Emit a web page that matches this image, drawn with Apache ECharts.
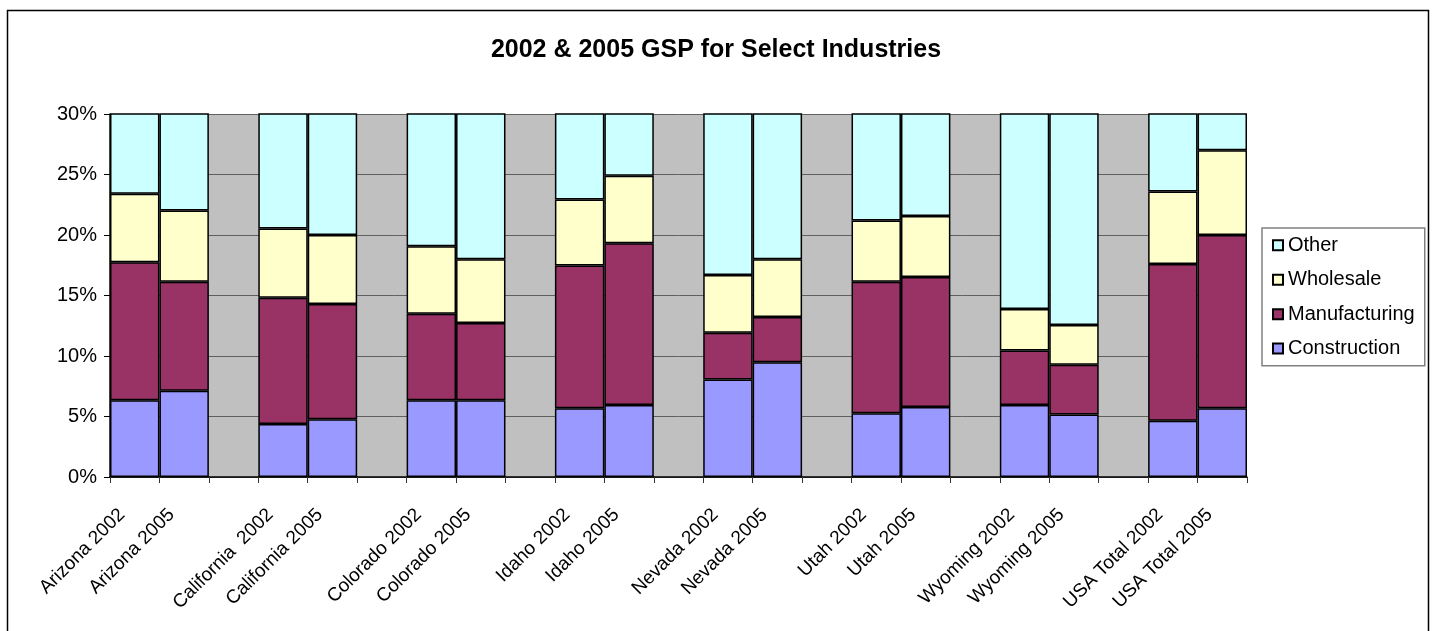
<!DOCTYPE html>
<html>
<head>
  <title>2002 & 2005 GSP for Select Industries</title>
  <style>
    body {
      margin: 0;
      background-color: #ffffff;
    }
    #gspChart {
      width: 1432px;
      height: 631px;
    }
  </style>
</head>
<body>
  <div id="gspChart"></div>

  <script src="https://cdn.jsdelivr.net/npm/echarts@6.0.0/dist/echarts.min.js"></script>
  <script>
    // Data (share of GSP, in %)
    var categories = ['Arizona 2002', 'Arizona 2005', '', 'California  2002', 'California 2005', '',
      'Colorado 2002', 'Colorado 2005', '', 'Idaho 2002', 'Idaho 2005', '', 'Nevada 2002', 'Nevada 2005', '',
      'Utah 2002', 'Utah 2005', '', 'Wyoming 2002', 'Wyoming 2005', '', 'USA Total 2002', 'USA Total 2005'];
    var construction = [6.35, 7.12, '-', 4.39, 4.77, '-', 6.35, 6.35, '-', 5.68, 5.96, '-',
      8.06, 9.49, '-', 5.27, 5.79, '-', 5.96, 5.16, '-', 4.64, 5.68];
    var manufacturing = [11.39, 9.02, '-', 10.43, 9.52, '-', 7.14, 6.37, '-', 11.79, 13.36, '-',
      3.86, 3.73, '-', 10.87, 10.74, '-', 4.50, 4.11, '-', 12.96, 14.32];
    var wholesale = [5.66, 5.88, '-', 5.71, 5.71, '-', 5.58, 5.27, '-', 5.46, 5.57, '-',
      4.77, 4.77, '-', 5.05, 5.05, '-', 3.42, 3.29, '-', 5.99, 7.01];
    var other = [76.6, 78.0, '-', 79.5, 80.0, '-', 80.9, 82.0, '-', 77.1, 75.1, '-',
      83.3, 82.0, '-', 78.8, 78.4, '-', 86.1, 87.4, '-', 76.4, 73.0];
    var yTicks = [0, 5, 10, 15, 20, 25, 30];

    var font = 'Arial, "Liberation Sans", sans-serif';

    function barSeries(name, data, color) {
      return {
        name: name,
        type: 'bar',
        stack: 'gsp',
        barCategoryGap: '0%',
        clip: true,
        itemStyle: {
          color: color,
          borderColor: '#000000',
          borderWidth: 1.5
        },
        data: data
      };
    }

    var option = {
      animation: false,
      title: {
        text: '2002 & 2005 GSP for Select Industries',
        left: 'center',
        top: 24,
        textStyle: {
          fontFamily: font,
          fontSize: 25,
          fontWeight: 'bold',
          color: '#000000'
        }
      },
      legend: {
        orient: 'vertical',
        left: 1262,
        top: 228,
        padding: [0, 10, 0, 10],
        itemGap: 0,
        itemWidth: 10,
        itemHeight: 10,
        icon: 'rect',
        borderColor: '#808080',
        borderWidth: 1.5,
        textStyle: {
          fontFamily: font,
          fontSize: 20,
          color: '#000000'
        },
        data: ['Other', 'Wholesale', 'Manufacturing', 'Construction']
      },
      grid: {
        left: 110,
        right: 185,
        top: 114,
        bottom: 154,
        show: true,
        backgroundColor: '#c0c0c0',
        borderWidth: 0
      },
      xAxis: {
        type: 'category',
        data: categories,
        axisLine: {
          lineStyle: { color: '#000000', width: 1.5 }
        },
        axisTick: {
          show: true,
          interval: 0,
          length: 6,
          lineStyle: { color: '#333333' }
        },
        axisLabel: {
          interval: 0,
          rotate: 45,
          margin: 22,
          padding: [0, 18, 0, 0],
          fontFamily: font,
          fontSize: 19,
          color: '#000000'
        }
      },
      yAxis: {
        type: 'value',
        min: yTicks[0],
        max: yTicks[yTicks.length - 1],
        interval: 5,
        axisLine: {
          show: true,
          lineStyle: { color: '#000000', width: 1.5 }
        },
        axisTick: {
          show: true,
          length: 6,
          lineStyle: { color: '#000000' }
        },
        axisLabel: {
          margin: 13,
          fontFamily: font,
          fontSize: 20,
          color: '#000000',
          formatter: '{value}%'
        },
        splitLine: {
          show: true,
          lineStyle: { color: '#606060', width: 1 }
        }
      },
      graphic: [{
        type: 'rect',
        shape: { x: 7.5, y: 10.5, width: 1421, height: 630 },
        style: { fill: 'none', stroke: '#000000', lineWidth: 1.5 },
        silent: true
      }],
      series: [
        barSeries('Construction', construction, '#9999ff'),
        barSeries('Manufacturing', manufacturing, '#993366'),
        barSeries('Wholesale', wholesale, '#ffffcc'),
        barSeries('Other', other, '#ccffff')
      ]
    };

    var chart = echarts.init(document.getElementById('gspChart'));
    chart.setOption(option);
  </script>
</body>
</html>
